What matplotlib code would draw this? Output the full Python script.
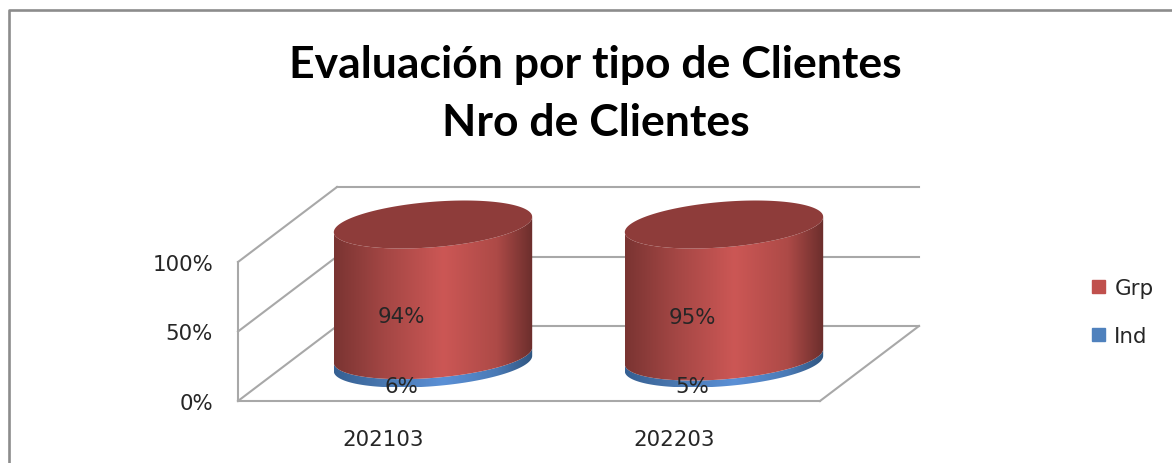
import numpy as np
import matplotlib
matplotlib.use('Agg')
import matplotlib.pyplot as plt
from matplotlib.colors import LinearSegmentedColormap
from matplotlib.lines import Line2D
from matplotlib.patches import Patch, Polygon

title = 'Evaluación por tipo de Clientes\nNro de Clientes'
categories = ['202103', '202203']
ind_values = [6, 5]
grp_values = [94, 95]
y_ticks = [0, 50, 100]
y_labels = ['0%', '50%', '100%']

W, H = 1172, 464
GRID = '#a8a8a8'
TEXT = '#262626'
FONT = 'DejaVu Sans'
SIZE = 15.4

# depth of the 3d box, in data units (categories, percent)
depth_x = 99 / 291
depth_y = 75 / 1.39
radius = 0.323
radius_d = 0.32

reds = LinearSegmentedColormap.from_list('reds', [(0, '#7a3432'), (0.25, '#a34644'), (0.55, '#cc5755'), (0.82, '#ad4a47'), (1, '#6b2e2c')])
blues = LinearSegmentedColormap.from_list('blues', [(0, '#355f92'), (0.25, '#4a78b0'), (0.55, '#5b90d6'), (0.82, '#4a7ab5'), (1, '#2f5580')])


def ring(c, z, t):
    d = 0.5 + radius_d * np.sin(t)
    return c + radius * np.cos(t) + d * depth_x, z + d * depth_y


def draw_segment(ax, c, z0, z1, cmap, zorder):
    t0 = np.pi + np.arctan2(radius_d * depth_x, radius)
    t = np.linspace(t0, t0 + np.pi, 120)
    xb, yb = ring(c, z0, t)
    xt, yt = ring(c, z1, t[::-1])
    pts = np.column_stack([np.r_[xb, xt], np.r_[yb, yt]])
    clip = Polygon(pts, closed=True, transform=ax.transData, fc='none', ec='none')
    ax.add_patch(clip)
    im = ax.imshow(np.linspace(0, 1, 256).reshape(1, -1), cmap=cmap, aspect='auto', zorder=zorder,
                   interpolation='bilinear',
                   extent=(pts[:, 0].min(), pts[:, 0].max(), pts[:, 1].min(), pts[:, 1].max()))
    im.set_clip_box(fig.bbox)
    im.set_clip_path(clip)


fig = plt.figure(figsize=(W / 100, H / 100), dpi=100, facecolor='white')
ax = fig.add_axes([238 / W, (H - 402) / H, 582 / W, 139 / H])
ax.patch.set_visible(False)

# outer chart border, only top and left are in the crop
fig.add_artist(Line2D([9 / W, 9 / W, 1], [0, 1 - 11 / H, 1 - 11 / H], color='#8c8c8c', lw=1.9))

fig.text(595 / W, 1 - 65 / H, title.split('\n')[0], ha='center', va='center', fontsize=32, fontweight='bold', family='Lato', color='black')
fig.text(596 / W, 1 - 123 / H, title.split('\n')[1], ha='center', va='center', fontsize=32, fontweight='bold', family='Lato', color='black')

# walls and floor
for v in y_ticks:
    ax.plot([0, depth_x], [v, v + depth_y], color=GRID, lw=1.5, clip_on=False, zorder=1)
    ax.plot([depth_x, 2 + depth_x], [v + depth_y, v + depth_y], color=GRID, lw=1.5, clip_on=False, zorder=1)
ax.plot([2, 2 + depth_x], [0, depth_y], color=GRID, lw=1.5, clip_on=False, zorder=1)

for i in range(len(categories)):
    c = i + 0.5
    top = ind_values[i] + grp_values[i]
    draw_segment(ax, c, 0, ind_values[i], blues, 3)
    draw_segment(ax, c, ind_values[i], top, reds, 4)
    t = np.linspace(0, 2 * np.pi, 200)
    xe, ye = ring(c, top, t)
    ax.fill(xe, ye, color='#8e3c3a', lw=0, zorder=5, clip_on=False)
    ax.text(c + 0.06, ind_values[i] + grp_values[i] / 2 + 8, f'{grp_values[i]}%', ha='center', va='center', fontsize=SIZE, color=TEXT, family=FONT, zorder=6)
    ax.text(c + 0.06, ind_values[i] / 2 + 8, f'{ind_values[i]}%', ha='center', va='center', fontsize=SIZE, color=TEXT, family=FONT, zorder=6)

ax.set_xlim(0, 2)
ax.set_ylim(0, 100)
ax.set_xticks([0.5, 1.5], categories, fontsize=SIZE, color=TEXT, family=FONT)
ax.set_yticks(y_ticks, y_labels, fontsize=SIZE, color=TEXT, family=FONT)
ax.tick_params(axis='both', length=0)
ax.tick_params(axis='y', pad=18)
ax.tick_params(axis='x', pad=20)
for side in ['top', 'right']:
    ax.spines[side].set_visible(False)
for side in ['left', 'bottom']:
    ax.spines[side].set_color(GRID)
    ax.spines[side].set_linewidth(1.5)

handles = [Patch(color='#c0504d', label='Grp'), Patch(color='#4f81bd', label='Ind')]
fig.legend(handles=handles, loc='center left', bbox_to_anchor=(1073 / W, 1 - 313 / H), frameon=False,
           prop={'family': FONT, 'size': SIZE}, labelcolor=TEXT, handlelength=0.58, handleheight=0.58,
           handletextpad=0.45, labelspacing=1.32)

fig.savefig('out.png', dpi=100)
